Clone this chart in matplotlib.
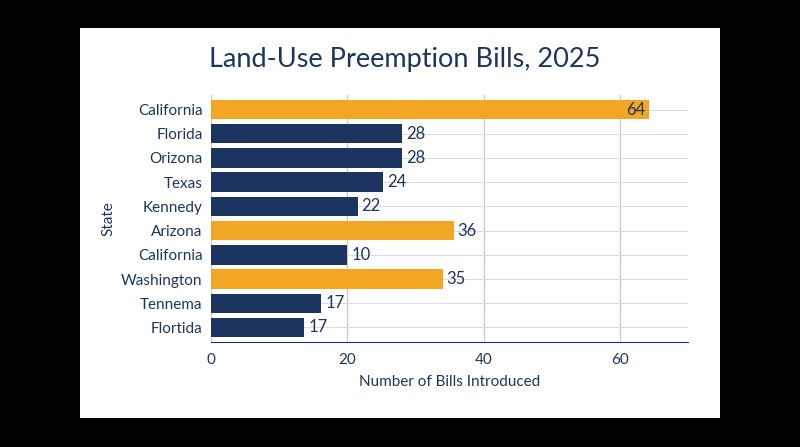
import matplotlib
matplotlib.use("Agg")
import matplotlib.pyplot as plt
from matplotlib.patches import Rectangle

states = ["California", "Florida", "Orizona", "Texas", "Kennedy", "Arizona",
          "California", "Washington", "Tennemа", "Flortida"]
values = [64.3, 28, 28, 25.3, 21.5, 35.6, 20, 34, 16.2, 13.7]
labels = ["64", "28", "28", "24", "22", "36", "10", "35", "17", "17"]
highlight = [True, False, False, False, False, True, False, True, False, False]

plt.rcParams['font.family'] = ['Lato', 'DejaVu Sans']
navy = "#1c3560"
orange = "#f2a623"

fig = plt.figure(figsize=(8, 4.47), dpi=100)
fig.patch.set_facecolor("black")
fig.patches.append(Rectangle((80/800, 1-418/447), 640/800, 390/447,
                             transform=fig.transFigure, facecolor="white", zorder=-5))
ax = fig.add_axes([211/800, 1-342/447, 477/800, 247/447])
ax.set_zorder(2)
ax.set_facecolor("white")
y = list(range(len(states)))
colors = [orange if h else navy for h in highlight]
ax.barh(y, values, color=colors, height=0.8, zorder=3)
for yi, v, lab, h in zip(y, values, labels, highlight):
    if v > 60:
        ax.text(v - 0.6, yi, lab, ha="right", va="center", fontsize=12, color=navy, zorder=4)
    else:
        ax.text(v + 0.6, yi, lab, ha="left", va="center", fontsize=12, color=navy, zorder=4)
ax.set_yticks(y)
ax.set_yticklabels(states, fontsize=11, color=navy)
ax.set_ylim(9.6, -0.6)
ax.set_xlim(0, 70)
ax.set_xticks([0, 20, 40, 60])
ax.tick_params(axis='x', labelsize=11, colors=navy, length=0, pad=8)
ax.tick_params(axis='y', length=0, pad=6)
ax.grid(axis='x', color="#cccccc", linewidth=1, zorder=0)
ax.grid(axis='y', color="#dddddd", linewidth=0.8, zorder=0)
ax.set_axisbelow(True)
for s in ["top", "right", "left"]:
    ax.spines[s].set_visible(False)
ax.spines["bottom"].set_color(navy)
ax.set_xlabel("Number of Bills Introduced", fontsize=11, color=navy, labelpad=6)
ax.set_ylabel("State", fontsize=11, color=navy)
fig.text(405/800, 1-60/447, "Land-Use Preemption Bills, 2025", ha="center", va="center",
         fontsize=19.5, color=navy)
fig.savefig("out.png", dpi=100, facecolor="black")
